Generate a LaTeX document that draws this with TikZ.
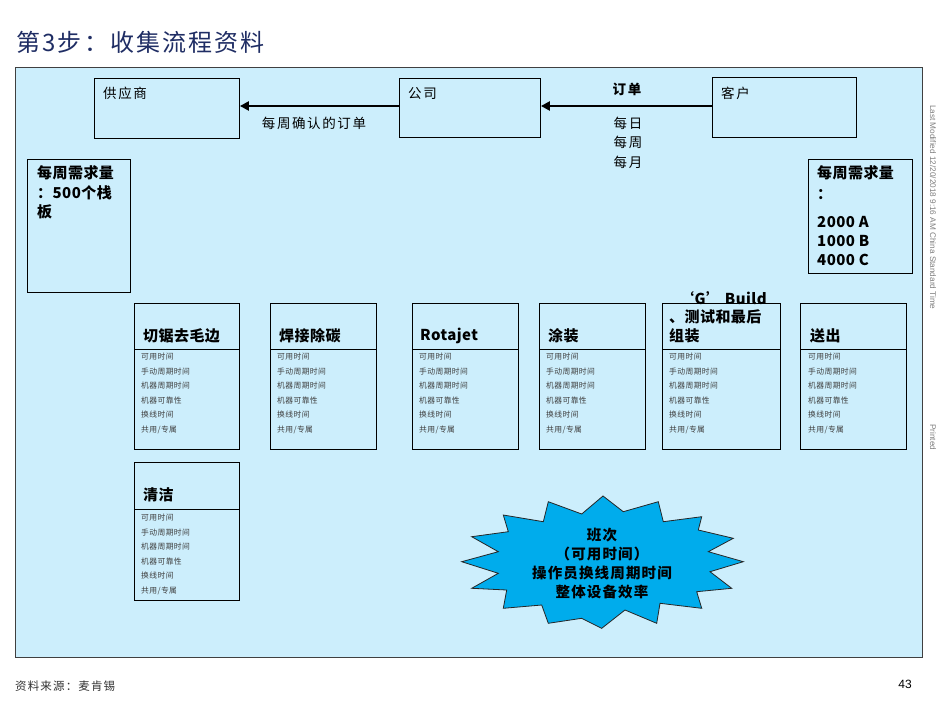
\documentclass[tikz,border=0pt]{standalone}
\usepackage{fontspec}
\setmainfont{Noto Sans CJK SC}
\newfontfamily\arialfont{Liberation Sans}
\usetikzlibrary{arrows.meta}
\definecolor{panel}{RGB}{204,238,252}
\definecolor{burst}{RGB}{0,172,236}
\definecolor{titleblue}{RGB}{31,45,100}
\tikzset{
 box/.style={draw=black, line width=0.9pt, fill=panel, anchor=north west, inner sep=0pt},
 lbl/.style={anchor=west, inner sep=0pt, font=\fontsize{13.5}{16}\selectfont\addfontfeatures{LetterSpace=12}},
 btitle/.style={anchor=west, inner sep=0pt, font=\fontsize{15}{17}\selectfont\bfseries\addfontfeatures{LetterSpace=3}},
 item/.style={anchor=west, inner sep=0pt, font=\fontsize{7.8}{8}\selectfont\addfontfeatures{LetterSpace=5}, text=black!75},
 flow/.style={line width=2.6pt, -{Triangle[length=9pt,width=9pt]}},
 sidetext/.style={rotate=-90, anchor=west, inner sep=0pt, font=\arialfont\fontsize{8.2}{9}\selectfont, text=black!50}
}
\newcommand{\procbox}[6]{%
 \node[box, minimum width=#4pt, minimum height=#5pt] (#1) at (#2,#3) {};
 \draw[line width=0.9pt] ([yshift=-#6pt]#1.north west) -- ([yshift=-#6pt]#1.north east);
}
\newcommand{\procitems}[3]{%
 \foreach \t [count=\i from 0] in {可用时间,手动周期时间,机器周期时间,机器可靠性,换线时间,共用/专属}
   \node[item] (#3i\i) at (#1, #2+14.5*\i) {\t};
}
\begin{document}
\begin{tikzpicture}[x=1pt,y=-1pt]
\useasboundingbox (0,0) rectangle (941,706);
\fill[white] (0,0) rectangle (941,706);
% title
\node[anchor=west, inner sep=0pt, text=titleblue, font=\fontsize{24}{28}\selectfont\addfontfeatures{LetterSpace=9}] (title) at (16,42) {第3步：收集流程资料};
% panel
\draw[fill=panel, draw=black!75, line width=1pt] (15,68) rectangle (922,657);
% top boxes
\node[box, minimum width=145pt, minimum height=60pt] (sup) at (94,78) {};
\node[lbl] (supt) at (103,93) {供应商};
\node[box, minimum width=141pt, minimum height=59pt] (com) at (399,78) {};
\node[lbl] (comt) at (408,93) {公司};
\node[box, minimum width=144pt, minimum height=60pt] (cus) at (712,77) {};
\node[lbl] (cust) at (721,93) {客户};
\draw[flow] (com.west |- 0,106) -- (sup.east |- 0,106);
\draw[flow] (cus.west |- 0,106) -- (com.east |- 0,106);
\node[lbl, anchor=center] (l1) at (314,123) {每周确认的订单};
\node[lbl, anchor=center, font=\fontsize{13.5}{16}\selectfont\bfseries\addfontfeatures{LetterSpace=12}] (l2) at (627,89) {订单};
\node[lbl, anchor=center] (l3) at (628,123) {每日};
\node[lbl, anchor=center] (l4) at (628,142) {每周};
\node[lbl, anchor=center] (l5) at (628,162) {每月};
% demand boxes
\node[box, minimum width=103pt, minimum height=133pt] (dl) at (27,159) {};
\node[btitle] (dl1) at (37,173) {每周需求量};
\node[btitle] (dl2) at (37,193) {：500个栈};
\node[btitle] (dl3) at (37,212) {板};
\node[box, minimum width=104pt, minimum height=114pt] (dr) at (808,159) {};
\node[btitle] (dr1) at (817,173) {每周需求量};
\node[btitle] (dr2) at (817,195) {：};
\node[btitle] (dr3) at (817,222) {2000 A};
\node[btitle] (dr4) at (817,241) {1000 B};
\node[btitle] (dr5) at (817,260) {4000 C};
% process boxes
\procbox{p1}{134}{303}{105}{146}{46}
\node[btitle] (p1t) at (143,336) {切锯去毛边};
\procitems{141}{357}{p1}
\procbox{p2}{270}{303}{106}{146}{46}
\node[btitle] (p2t) at (279,336) {焊接除碳};
\procitems{277}{357}{p2}
\procbox{p3}{412}{303}{106}{146}{46}
\node[btitle] (p3t) at (420,336) {Rotajet};
\procitems{419}{357}{p3}
\procbox{p4}{539}{303}{106}{146}{46}
\node[btitle] (p4t) at (548,336) {涂装};
\procitems{546}{357}{p4}
\procbox{p5}{662}{303}{118}{146}{46}
\node[btitle] (p5a) at (679,298) {‘G’ Build};
\node[btitle] (p5b) at (669,317) {、测试和最后};
\node[btitle] (p5c) at (669,336) {组装};
\procitems{669}{357}{p5}
\procbox{p6}{800}{303}{106}{146}{46}
\node[btitle] (p6t) at (810,336) {送出};
\procitems{808}{357}{p6}
\procbox{p7}{134}{462}{105}{138}{47}
\node[btitle] (p7t) at (143,495) {清洁};
\procitems{141}{518}{p7}
% starburst
\draw[fill=burst, draw=black!85, line width=0.8pt]
 (603,496) -- (623.3,511.7) -- (658.3,501.7) -- (663.3,521.7) -- (701.7,516.7) -- (698.3,530)
 -- (733.3,538.3) -- (708.3,551.7) -- (743.3,561.7) -- (710,571.7) -- (731.7,588.3) -- (696.7,591.7)
 -- (701.7,608.3) -- (660,603.3) -- (656.7,623.3) -- (625,610) -- (601.7,628.3) -- (581.7,618.3)
 -- (548.3,623.3) -- (541.7,605) -- (503.3,608.3) -- (506.7,590) -- (471.7,588.3) -- (498.3,573.3)
 -- (461.7,561.7) -- (498.3,551.7) -- (471.7,536.7) -- (508.3,531.7) -- (503.3,515) -- (543.3,521.7)
 -- (548.3,501.7) -- (581.7,514) -- cycle;
\node[align=center, inner sep=0pt, font=\fontsize{14.5}{19}\selectfont\bfseries\addfontfeatures{LetterSpace=8}] (bt) at (602,564)
 {班次\\（可用时间）\\操作员换线周期时间\\整体设备效率};
% side text
\node[sidetext] (side1) at (933,105) {Last Modified 12/20/2018 9:16 AM China Standard Time};
\node[sidetext] (side2) at (933,424) {Printed};
% footer
\node[anchor=west, inner sep=0pt, text=black!80, font=\fontsize{11.5}{13}\selectfont\addfontfeatures{LetterSpace=10}] (src) at (15,686) {资料来源：麦肯锡};
\node[anchor=east, inner sep=0pt, font=\arialfont\fontsize{12}{14}\selectfont] (pg) at (912,684) {43};
\end{tikzpicture}
\end{document}
